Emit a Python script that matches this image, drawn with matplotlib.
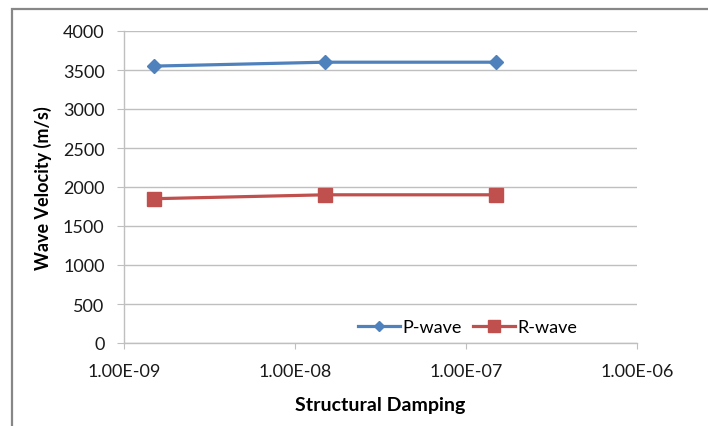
import matplotlib
matplotlib.use("Agg")
import matplotlib.pyplot as plt
from matplotlib.patches import Rectangle
from matplotlib.ticker import NullLocator

plt.rcParams['font.family'] = ['Lato', 'DejaVu Sans']

damping = [1.5e-9, 1.5e-8, 1.5e-7]
p_wave = [3550, 3600, 3600]
r_wave = [1850, 1900, 1900]
x_ticks = [1e-9, 1e-8, 1e-7, 1e-6]
x_tick_labels = ["1.00E-09", "1.00E-08", "1.00E-07", "1.00E-06"]
y_ticks = [0, 500, 1000, 1500, 2000, 2500, 3000, 3500, 4000]

W, H = 708, 427
fig = plt.figure(figsize=(W / 100, H / 100), dpi=100)
fig.patch.set_facecolor("white")

# chart-area frame (runs off the right and bottom edges)
fig.patches.append(Rectangle((12 / W, -0.1), 1.2, (H - 10) / H + 0.1,
                             transform=fig.transFigure, fill=False,
                             edgecolor="#878787", linewidth=1.6))

ax = fig.add_axes([124 / W, 1 - 344 / H, (637 - 124) / W, (344 - 32) / H])
ax.set_xscale("log")
ax.set_xlim(1e-9, 1e-6)
ax.set_ylim(0, 4000)

grid_c = "#bfbfbf"
ax.set_xticks(x_ticks)
ax.set_xticklabels(x_tick_labels)
ax.xaxis.set_minor_locator(NullLocator())
ax.set_yticks(y_ticks)
ax.yaxis.grid(True, color=grid_c, linewidth=1.0)
ax.set_axisbelow(True)

for s in ["top", "right"]:
    ax.spines[s].set_visible(False)
for s in ["left", "bottom"]:
    ax.spines[s].set_color(grid_c)
    ax.spines[s].set_linewidth(1.0)

ax.tick_params(axis="x", direction="out", length=4.5, color=grid_c, labelsize=13,
               labelcolor="#1a1a1a", pad=10)
ax.tick_params(axis="y", direction="out", length=5, color=grid_c, labelsize=13,
               labelcolor="#1a1a1a", pad=9)

blue = "#4F81BD"
red = "#C0504D"
ax.plot(damping, p_wave, color=blue, linewidth=2.3, marker="D", markersize=7.6,
        label="P-wave")
ax.plot(damping, r_wave, color=red, linewidth=2.3, marker="s", markersize=10.5,
        label="R-wave")

ax.set_xlabel("Structural Damping", fontsize=14, fontweight="bold", labelpad=12)
ax.set_ylabel("Wave Velocity (m/s)", fontsize=13, fontweight="bold", labelpad=8)

leg = fig.legend(*ax.get_legend_handles_labels(), loc="center left",
                 bbox_to_anchor=(358 / W, 1 - 328 / H), bbox_transform=fig.transFigure,
                 ncol=2, frameon=False, fontsize=13, borderpad=0, borderaxespad=0,
                 handlelength=2.3, columnspacing=0.65, handletextpad=0.15)
leg.legend_handles[0].set_markersize(5)
leg.legend_handles[1].set_markersize(8.5)

fig.savefig("out.png", dpi=100, facecolor="white")
